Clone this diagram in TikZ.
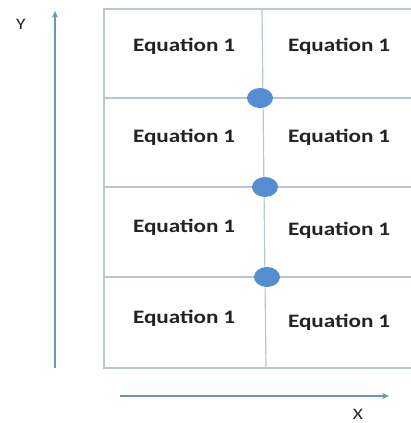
\documentclass[tikz,border=0pt]{standalone}
\usepackage{fontspec}
\setmainfont{Carlito}
\usetikzlibrary{arrows.meta,shapes.geometric}
\definecolor{gridc}{RGB}{185,198,212}
\definecolor{axisc}{RGB}{105,150,190}
\definecolor{dotc}{RGB}{84,142,208}
\definecolor{txtc}{RGB}{35,35,35}
\newcommand{\wide}[1]{\scalebox{1.22}[1]{#1}}
\begin{document}
\begin{tikzpicture}[x=1pt,y=-1pt,
  gridline/.style={draw=gridc,line width=1.2pt},
  axisline/.style={draw=axisc,line width=2pt,-{Stealth[length=7pt,width=6pt]}},
  eq/.style={font=\fontsize{19}{19}\bfseries\selectfont,text=txtc,inner sep=0pt},
  lbl/.style={font=\fontsize{16}{16}\selectfont,text=txtc,inner sep=0pt},
  junction/.style={ellipse,fill=dotc,minimum width=26pt,minimum height=20pt,inner sep=0pt}]
\useasboundingbox (0,0) rectangle (411,423);
% grid corners
\coordinate (tl) at (104,9);
\coordinate (tr) at (411,9);
\coordinate (bl) at (104,368);
\coordinate (br) at (411,368);
\coordinate (h1l) at (104,98);  \coordinate (h1r) at (411,98);
\coordinate (h2l) at (104,187); \coordinate (h2r) at (411,187);
\coordinate (h3l) at (104,277); \coordinate (h3r) at (411,277);
\coordinate (vt) at (262,9);
\coordinate (vb) at (266,368);
\draw[gridline] (tr) -- (tl) -- (bl) -- (br);
\draw[gridline] (h1l) -- (h1r);
\draw[gridline] (h2l) -- (h2r);
\draw[gridline] (h3l) -- (h3r);
\draw[gridline] (vt) -- (vb);
% junction dots
\node[junction] (d1) at (260,98) {};
\node[junction] (d2) at (265,187) {};
\node[junction] (d3) at (267,277) {};
% axes
\coordinate (ys) at (55,368);
\coordinate (ye) at (55,11);
\coordinate (xs) at (120,396);
\coordinate (xe) at (389,396);
\draw[axisline] (ys) -- (ye);
\draw[axisline] (xs) -- (xe);
\node[lbl] (ylab) at (21,24) {\wide{Y}};
\node[lbl] (xlab) at (358,414) {\wide{X}};
% labels
\node[eq] (e11) at (184,46) {\wide{Equation\kern0.2em1}};
\node[eq] (e12) at (339,46) {\wide{Equation\kern0.2em1}};
\node[eq] (e21) at (184,137) {\wide{Equation\kern0.2em1}};
\node[eq] (e22) at (339,137) {\wide{Equation\kern0.2em1}};
\node[eq] (e31) at (184,227) {\wide{Equation\kern0.2em1}};
\node[eq] (e32) at (339,230) {\wide{Equation\kern0.2em1}};
\node[eq] (e41) at (184,318) {\wide{Equation\kern0.2em1}};
\node[eq] (e42) at (339,322) {\wide{Equation\kern0.2em1}};
\end{tikzpicture}
\end{document}
